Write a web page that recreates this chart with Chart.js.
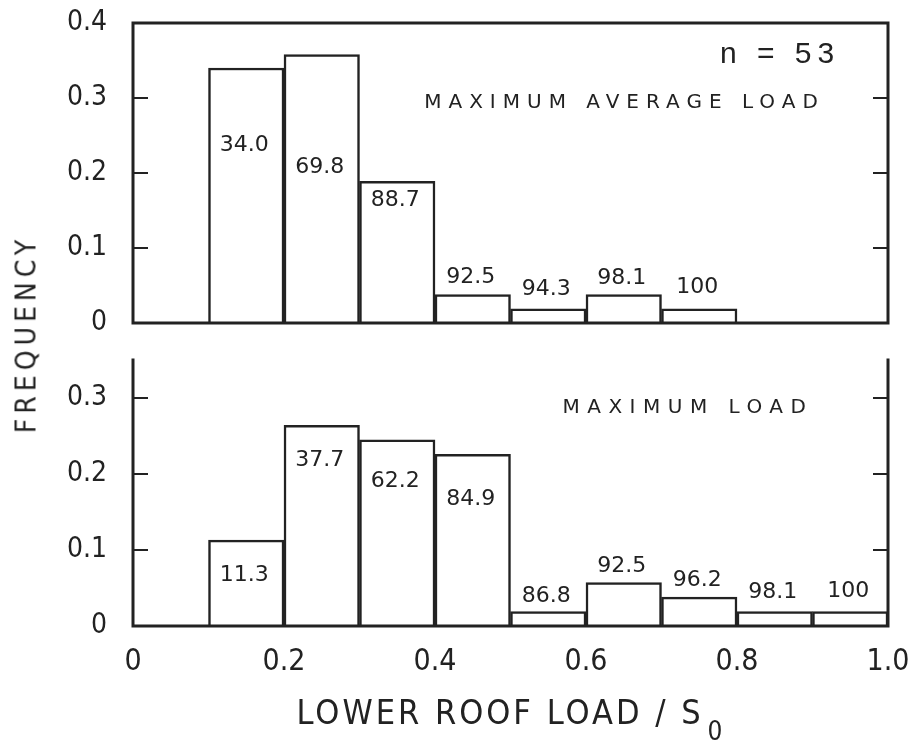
<!DOCTYPE html>
<html>
<head>
<meta charset="utf-8">
<script src="https://cdn.jsdelivr.net/npm/chart.js@4/dist/chart.umd.min.js"></script>
<style>
  html, body { margin: 0; padding: 0; background: #fff; }
  #page { position: relative; width: 918px; height: 746px; overflow: hidden; background: #fff; }
  #c1 { position: absolute; left: 0; top: 0; }
  #c2 { position: absolute; left: 0; top: 340px; }
  #ylab {
    position: absolute; left: 26px; top: 334px;
    transform: translate(-50%, -50%) rotate(-90deg);
    font: 28px "DejaVu Sans Condensed", "Liberation Sans Narrow", sans-serif;
    letter-spacing: 5px; color: #222; white-space: nowrap;
  }
</style>
</head>
<body>
<div id="page">
  <canvas id="c1" width="918" height="345"></canvas>
  <canvas id="c2" width="918" height="406"></canvas>
  <div id="ylab">FREQUENCY</div>
</div>
<script>
// --- dados (n = 53) ---
const binsTop = [0.15, 0.25, 0.35, 0.45, 0.55, 0.65, 0.75];
const freqTop = [0.340, 0.358, 0.189, 0.038, 0.019, 0.038, 0.019];
const cumTop = ['34.0', '69.8', '88.7', '92.5', '94.3', '98.1', '100'];

const binsBottom = [0.15, 0.25, 0.35, 0.45, 0.55, 0.65, 0.75, 0.85, 0.95];
const freqBottom = [0.113, 0.264, 0.245, 0.226, 0.019, 0.057, 0.038, 0.019, 0.019];
const cumBottom = ['11.3', '37.7', '62.2', '84.9', '86.8', '92.5', '96.2', '98.1', '100'];

const yTicksTop = [0, 0.1, 0.2, 0.3, 0.4];
const yTicksBottom = [0, 0.1, 0.2, 0.3];
const xTicks = [0, 0.2, 0.4, 0.6, 0.8, 1.0];
const xTickLabels = ['0', '0.2', '0.4', '0.6', '0.8', '1.0'];

// deslocamento vertical (px) de cada rótulo em relação ao topo da barra
const offsetsTop = [77, 113, 19, -17, -19, -16, -21];
const offsetsBottom = [35, 35, 41, 45, -15, -16, -17, -19, -20];

const ink = '#222222';
const narrow = '"DejaVu Sans Condensed", "Liberation Sans Narrow", sans-serif';

const framePlugin = {
    id: 'frame',
    afterDatasetsDraw(chart, args, opts) {
        const { ctx, chartArea: a, scales } = chart;
        const y = scales.y;
        ctx.save();
        ctx.strokeStyle = ink;
        ctx.lineWidth = 3;
        ctx.lineCap = 'square';
        ctx.beginPath();
        if (opts.top) {
            ctx.moveTo(a.left, a.top);
            ctx.lineTo(a.right, a.top);
        }
        ctx.moveTo(a.left, a.top);
        ctx.lineTo(a.left, a.bottom);
        ctx.lineTo(a.right, a.bottom);
        ctx.lineTo(a.right, a.top);
        ctx.stroke();
        // marcas internas nos dois lados
        ctx.lineWidth = 2;
        ctx.lineCap = 'butt';
        ctx.beginPath();
        y.ticks.forEach(t => {
            if (t.value <= y.min || t.value >= y.max) return;
            const py = y.getPixelForValue(t.value);
            ctx.moveTo(a.left, py); ctx.lineTo(a.left + 15, py);
            ctx.moveTo(a.right - 15, py); ctx.lineTo(a.right, py);
        });
        ctx.stroke();
        ctx.restore();
    }
};

const labelsPlugin = {
    id: 'barLabels',
    afterDatasetsDraw(chart, args, opts) {
        const { ctx } = chart;
        const meta = chart.getDatasetMeta(0);
        ctx.save();
        ctx.fillStyle = ink;
        ctx.font = '22px "DejaVu Sans", sans-serif';
        ctx.textAlign = 'center';
        ctx.textBaseline = 'middle';
        meta.data.forEach((bar, i) => {
            ctx.fillText(opts.texts[i], bar.x - 2, bar.y + opts.offsets[i]);
        });
        ctx.restore();
    }
};

const notesPlugin = {
    id: 'notes',
    afterDraw(chart, args, opts) {
        const { ctx, chartArea: a } = chart;
        ctx.save();
        ctx.fillStyle = ink;
        ctx.textAlign = 'center';
        ctx.textBaseline = 'middle';
        (opts.items || []).forEach(it => {
            ctx.font = it.font;
            ctx.letterSpacing = it.spacing || '0px';
            ctx.fillText(it.text, a.left + it.fx * (a.right - a.left), a.top + it.fy * (a.bottom - a.top));
        });
        if (opts.xTitle) {
            const t = opts.xTitle;
            ctx.font = t.font;
            ctx.letterSpacing = t.spacing;
            const w1 = ctx.measureText(t.text).width;
            ctx.font = t.subFont;
            ctx.letterSpacing = '0px';
            const w2 = ctx.measureText(t.sub).width;
            const cx = (a.left + a.right) / 2;
            const x0 = cx - (w1 + w2 + 6) / 2;
            ctx.textAlign = 'left';
            ctx.font = t.font;
            ctx.letterSpacing = t.spacing;
            ctx.fillText(t.text, x0, t.y);
            ctx.font = t.subFont;
            ctx.letterSpacing = '0px';
            ctx.fillText(t.sub, x0 + w1 + 4, t.y + 18);
        }
        ctx.restore();
    }
};

function fixedTicks(values) {
    return scale => { scale.ticks = values.map(v => ({ value: v })); };
}

function yLabel(v) {
    return v === 0 ? '0' : v.toFixed(1);
}

function histogram(canvasId, bins, freqs, texts, offsets, yMax, yTicks, extra) {
    return new Chart(document.getElementById(canvasId), {
        type: 'bar',
        data: {
            datasets: [{
                data: bins.map((b, i) => ({ x: b, y: freqs[i] })),
                backgroundColor: '#ffffff',
                borderColor: ink,
                borderWidth: 2.5,
                barPercentage: 1,
                categoryPercentage: 1
            }]
        },
        options: {
            responsive: false,
            animation: false,
            layout: { padding: extra.padding },
            plugins: {
                legend: { display: false },
                tooltip: { enabled: false },
                frame: { top: extra.frameTop },
                barLabels: { texts: texts, offsets: offsets },
                notes: { items: extra.notes, xTitle: extra.xTitle }
            },
            scales: {
                x: {
                    type: 'linear',
                    min: 0,
                    max: 1,
                    offset: false,
                    display: extra.showX,
                    grid: { display: false, offset: false },
                    border: { display: false },
                    afterBuildTicks: fixedTicks(xTicks),
                    afterFit: s => {
                        if (extra.showX) s.height = 120;
                        s.paddingLeft = 0; s.paddingRight = 0;
                    },
                    ticks: {
                        padding: 10,
                        color: ink,
                        font: { family: narrow, size: 30 },
                        maxRotation: 0,
                        callback: (v, i) => xTickLabels[i]
                    }
                },
                y: {
                    min: 0,
                    max: yMax,
                    grid: { display: false },
                    border: { display: false },
                    afterBuildTicks: fixedTicks(yTicks),
                    afterFit: s => {
                        s.width = 133;
                        s.paddingTop = 0; s.paddingBottom = 0;
                    },
                    ticks: {
                        padding: 18,
                        color: ink,
                        font: { family: narrow, size: 28 },
                        callback: v => yLabel(v)
                    }
                }
            }
        },
        plugins: [framePlugin, labelsPlugin, notesPlugin]
    });
}

histogram('c1', binsTop, freqTop, cumTop, offsetsTop, 0.4, yTicksTop, {
    padding: { top: 23, bottom: 22, left: 0, right: 30 },
    frameTop: true,
    showX: false,
    notes: [
        { text: 'n = 53', fx: 0.857, fy: 0.107, font: '30px "Liberation Sans", sans-serif', spacing: '6px' },
        { text: 'MAXIMUM AVERAGE LOAD', fx: 0.651, fy: 0.267, font: '20px "DejaVu Sans", sans-serif', spacing: '7px' }
    ]
});

histogram('c2', binsBottom, freqBottom, cumBottom, offsetsBottom, 0.35, yTicksBottom, {
    padding: { top: 20, bottom: 0, left: 0, right: 30 },
    frameTop: false,
    showX: true,
    notes: [
        { text: 'MAXIMUM LOAD', fx: 0.735, fy: 0.18, font: '20px "DejaVu Sans", sans-serif', spacing: '7.5px' }
    ],
    xTitle: {
        text: 'LOWER ROOF LOAD / S',
        sub: '0',
        y: 375,
        font: '34px ' + narrow,
        subFont: '26px ' + narrow,
        spacing: '3px'
    }
});
</script>
</body>
</html>
